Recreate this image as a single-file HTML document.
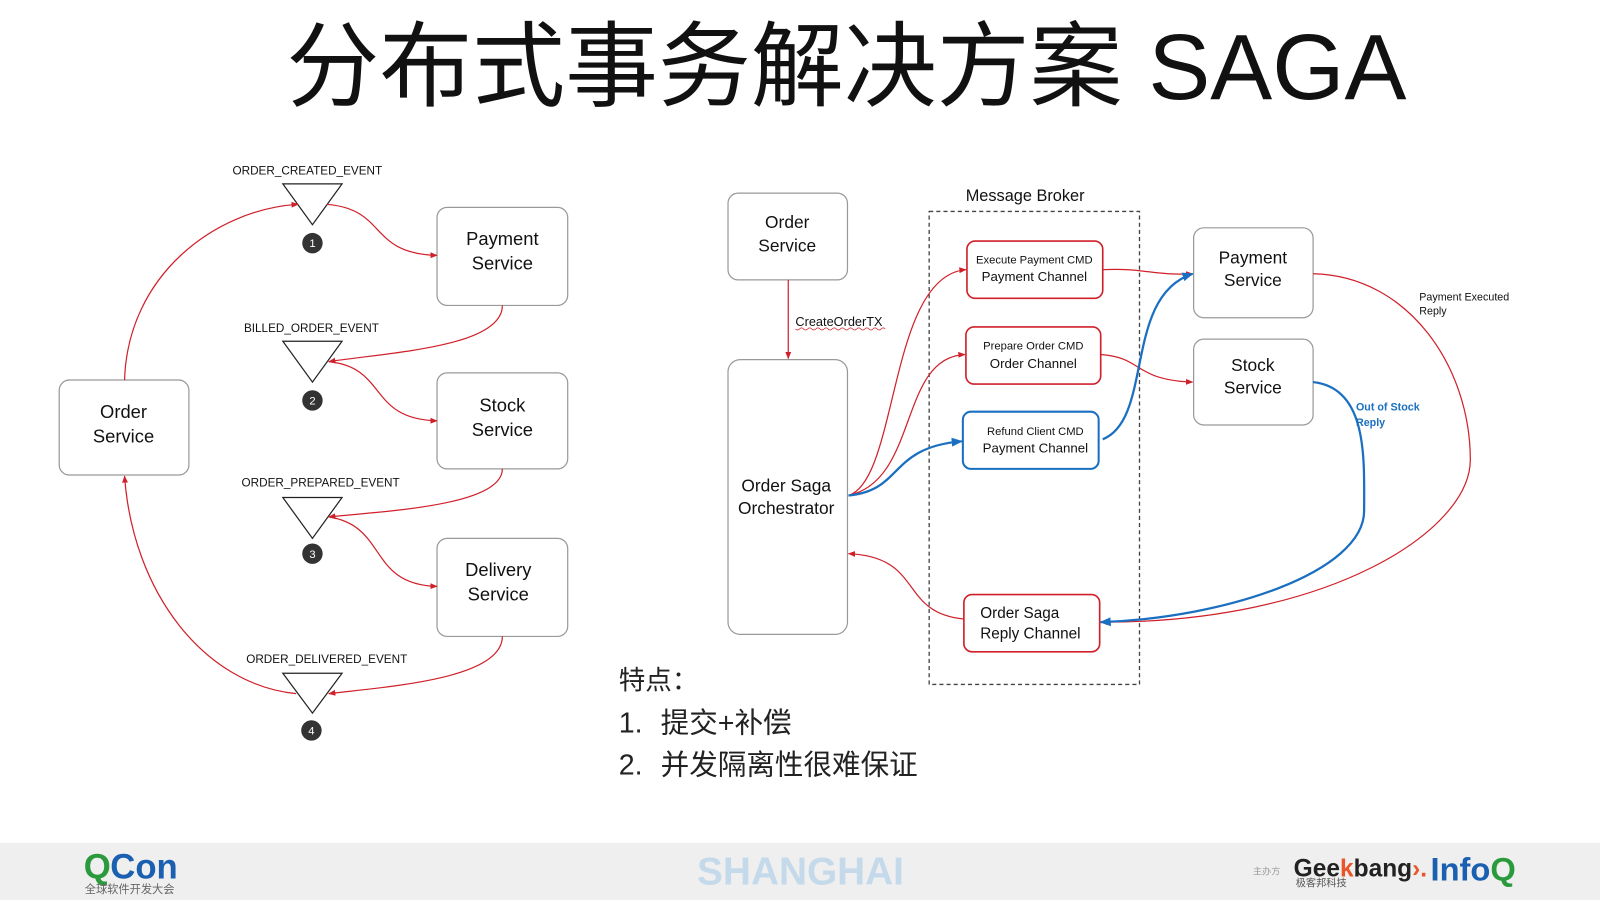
<!DOCTYPE html>
<html><head><meta charset="utf-8"><style>
html,body{margin:0;padding:0;background:#fff;width:1600px;height:900px;overflow:hidden}
svg{display:block}
text{font-family:"Liberation Sans","Noto Sans CJK SC",sans-serif}
</style></head><body>
<svg width="1600" height="900" viewBox="0 0 1567 881" preserveAspectRatio="none" xmlns="http://www.w3.org/2000/svg">
<defs>
<marker id="ar" viewBox="0 0 10 10" refX="9" refY="5" markerWidth="6" markerHeight="6" orient="auto"><path d="M0,1 L10,5 L0,9z" fill="#d0202a"/></marker>
<marker id="ab" viewBox="0 0 10 10" refX="9" refY="5" markerWidth="5" markerHeight="5" orient="auto"><path d="M0,1 L10,5 L0,9z" fill="#1a6fc0"/></marker>
</defs>
<text x="829" y="97" font-size="91" text-anchor="middle" fill="#111">分布式事务解决方案 SAGA</text>

<!-- left diagram -->
<g fill="#fff" stroke="#999" stroke-width="1.2">
<rect x="58" y="372" width="127" height="93" rx="10"/>
<rect x="428" y="203" width="128" height="96" rx="10"/>
<rect x="428" y="365" width="128" height="94" rx="10"/>
<rect x="428" y="527" width="128" height="96" rx="10"/>
</g>
<g font-size="18" text-anchor="middle" fill="#111">
<text x="121" y="409">Order</text><text x="121" y="433">Service</text>
<text x="492" y="240">Payment</text><text x="492" y="264">Service</text>
<text x="492" y="403">Stock</text><text x="492" y="427">Service</text>
<text x="488" y="564">Delivery</text><text x="488" y="588">Service</text>
</g>
<g fill="#fff" stroke="#222" stroke-width="1.2">
<path d="M277,180 L335,180 L306,220z"/>
<path d="M277,334 L335,334 L306,374z"/>
<path d="M277,487 L335,487 L306,527z"/>
<path d="M277,659 L335,659 L306,698z"/>
</g>
<g font-size="11.5" fill="#111" text-anchor="middle">
<text x="301" y="171">ORDER_CREATED_EVENT</text>
<text x="305" y="325">BILLED_ORDER_EVENT</text>
<text x="314" y="476">ORDER_PREPARED_EVENT</text>
<text x="320" y="649">ORDER_DELIVERED_EVENT</text>
</g>
<g fill="#333"><circle cx="306" cy="238" r="10"/><circle cx="306" cy="392" r="10"/><circle cx="306" cy="542" r="10"/><circle cx="305" cy="715" r="10"/></g>
<g fill="#fff" font-size="11" text-anchor="middle"><text x="306" y="242">1</text><text x="306" y="396">2</text><text x="306" y="546">3</text><text x="305" y="719">4</text></g>
<g fill="none" stroke="#d0202a" stroke-width="1.2" marker-end="url(#ar)">
<path d="M122,372 C125,270 210,205 292,200"/>
<path d="M320,200 C380,205 360,248 428,250"/>
<path d="M492,299 C492,340 380,345 322,354"/>
<path d="M322,354 C380,360 360,410 428,412"/>
<path d="M492,459 C492,495 380,500 322,506"/>
<path d="M322,506 C380,515 360,572 428,574"/>
<path d="M492,623 C492,665 380,672 322,679"/>
<path d="M290,679 C200,670 130,580 122,466"/>
</g>

<!-- right diagram -->
<g fill="#fff" stroke="#999" stroke-width="1.2">
<rect x="713" y="189" width="117" height="85" rx="10"/>
<rect x="713" y="352" width="117" height="269" rx="12"/>
<rect x="1169" y="223" width="117" height="88" rx="10"/>
<rect x="1169" y="332" width="117" height="84" rx="10"/>
</g>
<rect x="910" y="207" width="206" height="463" fill="none" stroke="#444" stroke-width="1.3" stroke-dasharray="4,3"/>
<text x="1004" y="197" font-size="16" text-anchor="middle" fill="#111">Message Broker</text>
<g fill="#fff" stroke-width="1.6">
<rect x="947" y="236" width="133" height="56" rx="8" stroke="#d0202a"/>
<rect x="946" y="320" width="132" height="56" rx="8" stroke="#d0202a"/>
<rect x="943" y="403" width="133" height="56" rx="8" stroke="#1a6fc0" stroke-width="2"/>
<rect x="944" y="582" width="133" height="56" rx="8" stroke="#d0202a"/>
</g>
<g text-anchor="middle" fill="#111">
<text x="771" y="223" font-size="17">Order</text><text x="771" y="246" font-size="17">Service</text>
<text x="770" y="481" font-size="17">Order Saga</text><text x="770" y="503" font-size="17">Orchestrator</text>
<text x="1227" y="258" font-size="17">Payment</text><text x="1227" y="280" font-size="17">Service</text>
<text x="1227" y="363" font-size="17">Stock</text><text x="1227" y="385" font-size="17">Service</text>
<text x="1013" y="258" font-size="11">Execute Payment CMD</text><text x="1013" y="275" font-size="13">Payment Channel</text>
<text x="1012" y="342" font-size="11">Prepare Order CMD</text><text x="1012" y="360" font-size="13">Order Channel</text>
<text x="1014" y="426" font-size="11">Refund Client CMD</text><text x="1014" y="443" font-size="13">Payment Channel</text>
</g>
<text x="960" y="605" font-size="15" fill="#111">Order Saga</text>
<text x="960" y="625" font-size="15" fill="#111">Reply Channel</text>
<text x="779" y="319" font-size="12.5" fill="#111">CreateOrderTX</text>
<path d="M779,322 q2,2 4,0 t4,0 t4,0 t4,0 t4,0 t4,0 t4,0 t4,0 t4,0 t4,0 t4,0 t4,0 t4,0 t4,0 t4,0 t4,0 t4,0 t4,0 t4,0 t4,0 t4,0 t4,0" fill="none" stroke="#d0202a" stroke-width="0.7"/>
<text x="1390" y="294" font-size="10.5" fill="#111">Payment Executed</text>
<text x="1390" y="308" font-size="10.5" fill="#111">Reply</text>
<text x="1328" y="402" font-size="10.5" fill="#1a6fc0" font-weight="bold">Out of Stock</text>
<text x="1328" y="417" font-size="10.5" fill="#1a6fc0" font-weight="bold">Reply</text>
<g fill="none" stroke="#d0202a" stroke-width="1.2" marker-end="url(#ar)">
<path d="M772,274 L772,351"/>
<path d="M831,485 C880,470 870,270 946,264"/>
<path d="M831,485 C900,470 880,350 945,347"/>
<path d="M1080,264 C1120,262 1130,270 1168,268"/>
<path d="M1078,347 C1120,350 1110,372 1168,374"/>
<path d="M944,606 C880,600 905,545 831,542"/>
<path d="M1286,268 C1380,270 1440,360 1440,450 C1440,520 1300,610 1078,609"/>
</g>
<g fill="none" stroke="#1a6fc0" stroke-width="2.2" marker-end="url(#ab)">
<path d="M831,485 C885,480 870,438 942,432"/>
<path d="M1080,430 C1130,410 1100,290 1168,268"/>
<path d="M1286,374 C1340,380 1336,450 1336,500 C1336,560 1200,605 1078,609"/>
</g>

<g font-size="28" fill="#222">
<text x="606" y="675" font-size="26">特点：</text>
<text x="606" y="717">1.</text><text x="647" y="717">提交+补偿</text>
<text x="606" y="758">2.</text><text x="647" y="758">并发隔离性很难保证</text>
</g>

<!-- footer -->
<rect x="0" y="825" width="1567" height="56" fill="#efefef"/>
<text x="82" y="860" font-size="34" font-weight="bold" fill="#2a9a3c">Q</text>
<text x="108" y="860" font-size="34" font-weight="bold" fill="#1a5fb0">Con</text>
<text x="83" y="874" font-size="11" fill="#666">全球软件开发大会</text>
<text x="784" y="866" font-size="38" font-weight="bold" text-anchor="middle" fill="#c4d9ea">SHANGHAI</text>
<text x="1227" y="856" font-size="9" fill="#999">主办方</text>
<text x="1267" y="858" font-size="24" font-weight="bold" fill="#222">Gee<tspan fill="#e8562a">k</tspan>bang<tspan fill="#e8562a">›.</tspan></text>
<text x="1269" y="868" font-size="10" fill="#555">极客邦科技</text>
<text x="1401" y="862" font-size="32" font-weight="bold" fill="#1a5fb0">Info<tspan fill="#2a9a3c">Q</tspan></text>
</svg>
</body></html>
